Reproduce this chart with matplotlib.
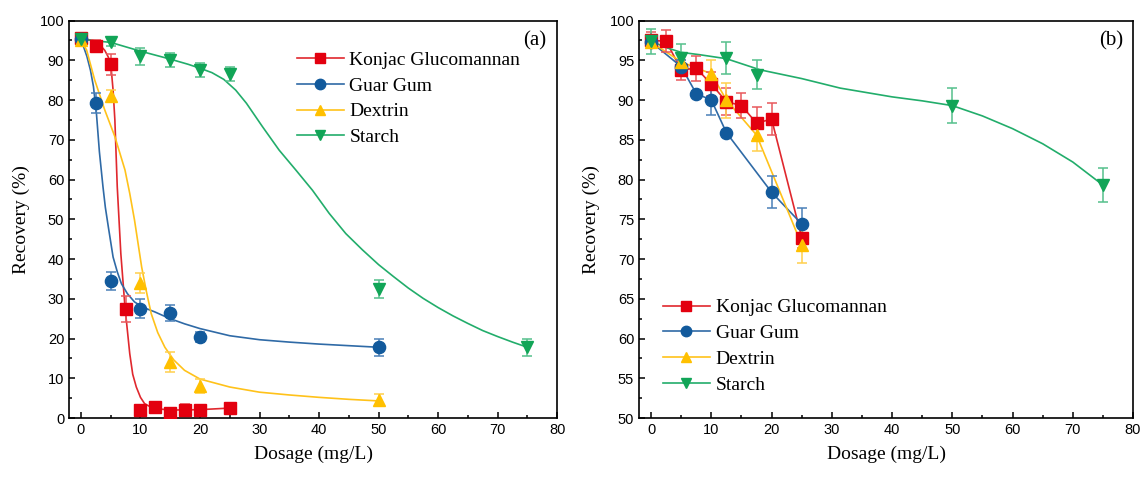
#!/usr/bin/env python3
"""
Recovery vs dosage for four depressants, two panels.
"""

import matplotlib
matplotlib.use("Agg")
import matplotlib.pyplot as plt
from matplotlib.ticker import MultipleLocator


NAMES = ["Konjac Glucomannan", "Guar Gum", "Dextrin", "Starch"]
COLORS = ["#e3000f", "#125a9c", "#ffc000", "#11a557"]
LINE_COLORS = ["#e0282e", "#2f6aa6", "#ffc21a", "#22ad6b"]
ERR_COLORS = ["#e8585c", "#4a80b8", "#ffd04d", "#55c08c"]
MARKERS = ["s", "o", "^", "v"]

# ---- panel (a): measured points
a_kgm_x = [0, 2.5, 5, 7.5, 10, 12.5, 15, 17.5, 20, 25]
a_kgm_y = [95.5, 93.5, 89.0, 27.5, 2.0, 2.7, 1.2, 2.0, 2.0, 2.5]
a_kgm_e = [1.2, 1.5, 2.7, 3.3, 1.0, 0.6, 0.8, 1.5, 1.0, 1.0]

a_guar_x = [0, 2.5, 5, 10, 15, 20, 50]
a_guar_y = [95.3, 79.2, 34.5, 27.5, 26.5, 20.3, 17.8]
a_guar_e = [1.3, 2.5, 2.2, 2.4, 2.0, 1.3, 2.2]

a_dex_x = [0, 5, 10, 15, 20, 50]
a_dex_y = [95.0, 81.0, 34.0, 14.0, 8.0, 4.5]
a_dex_e = [1.0, 1.5, 2.5, 2.5, 1.8, 1.5]

a_sta_x = [0, 5, 10, 15, 20, 25, 50, 75]
a_sta_y = [95.3, 94.7, 91.0, 90.0, 87.5, 86.5, 32.5, 17.8]
a_sta_e = [1.0, 1.2, 2.2, 1.8, 1.8, 1.8, 2.2, 2.2]

# ---- panel (a): fitted curves
a_kgm_fx = [0, 2, 3, 4, 4.6, 5.1, 5.4, 5.7, 6.1, 6.7, 7.4, 8.2, 8.7, 9.3, 10.0, 10.7, 11.8, 13, 15, 20, 25]
a_kgm_fy = [95.5, 95.0, 94.2, 92.5, 90.8, 87.6, 82.5, 75.0, 58.2, 41.4, 27.9, 16.2, 11.0, 7.8, 5.2,
            3.6, 2.7, 2.3, 2.0, 2.1, 2.5]

a_guar_fx = [0, 1, 1.6, 2.1, 2.6, 3.1, 3.7, 4.1, 4.6, 5.4, 6.1, 6.8, 7.8, 9.0, 10.5, 12.4, 14.8, 17.4,
             20, 25, 30, 35, 40, 45, 50]
a_guar_fy = [95.3, 91.0, 87.5, 83.4, 76.7, 67.0, 58.2, 53.0, 48.1, 40.5, 36.8, 33.8, 31.3, 29.2, 27.8,
             26.7, 25.1, 23.7, 22.5, 20.7, 19.7, 19.1, 18.6, 18.2, 17.8]

a_dex_fx = [0, 0.95, 2.3, 4.0, 5.7, 7.4, 8.2, 9.0, 10.2, 11.0, 11.8, 12.9, 14.1, 15.6, 17.4, 20, 25,
            30, 35, 40, 45, 50]
a_dex_fy = [95.0, 92.6, 85.1, 77.5, 70.8, 62.4, 56.5, 49.8, 38.0, 31.8, 26.3, 21.5, 17.8, 14.6,
            12.0, 9.8, 7.8, 6.5, 5.8, 5.2, 4.7, 4.3]

a_sta_fx = [0, 5, 10, 15, 18, 20, 22, 24, 26, 27.8, 30.5, 33.3, 36.1, 38.9, 41.7, 44.5, 47.3, 50,
            52.5, 55, 57.5, 60, 62.5, 65, 67.5, 70, 72.5, 75]
a_sta_fy = [95.3, 94.5, 92.3, 90.3, 89.0, 88.0, 86.9, 85.2, 82.5, 79.2, 73.3, 67.4, 62.4, 57.3,
            51.5, 46.4, 42.3, 38.6, 35.6, 32.7, 30.1, 27.8, 25.7, 23.8, 22.0, 20.5, 19.1, 17.8]

# ---- panel (b): measured points
b_kgm_x = [0, 2.5, 5, 7.5, 10, 12.5, 15, 17.5, 20, 25]
b_kgm_y = [97.5, 97.4, 93.8, 94.0, 92.0, 89.8, 89.3, 87.1, 87.6, 72.7]
b_kgm_e = [1.0, 1.4, 1.3, 1.6, 1.5, 1.7, 1.6, 2.0, 2.0, 1.3]

b_guar_x = [0, 5, 7.5, 10, 12.5, 20, 25]
b_guar_y = [97.3, 94.2, 90.8, 90.0, 85.9, 78.4, 74.4]
b_guar_e = [0.7, 0.9, 0.3, 1.9, 0.3, 2.0, 2.0]

b_dex_x = [0, 5, 10, 12.5, 17.5, 25]
b_dex_y = [97.3, 94.8, 93.3, 90.0, 85.6, 71.8]
b_dex_e = [0.5, 1.0, 1.8, 2.2, 2.0, 2.3]

b_sta_x = [0, 5, 12.5, 17.5, 50, 75]
b_sta_y = [97.4, 95.3, 95.3, 93.2, 89.3, 79.3]
b_sta_e = [1.6, 1.8, 2.0, 1.8, 2.2, 2.1]

# ---- panel (b): starch fitted curve
b_sta_fx = [0, 2.5, 5, 8.1, 12.5, 18.1, 25, 31.4, 40, 45, 50, 55, 60, 65, 70, 75]
b_sta_fy = [97.4, 96.6, 96.0, 95.7, 95.2, 93.8, 92.7, 91.5, 90.4, 89.9, 89.3, 88.0, 86.4, 84.5,
            82.2, 79.3]

SERIF = ["Liberation Serif", "DejaVu Serif"]
SANS = ["Liberation Sans", "DejaVu Sans"]


def style_axes(ax, ylim, ymajor, yminor):
    ax.set_xlim(-2, 80)
    ax.set_ylim(*ylim)
    ax.xaxis.set_major_locator(MultipleLocator(10))
    ax.xaxis.set_minor_locator(MultipleLocator(5))
    ax.yaxis.set_major_locator(MultipleLocator(ymajor))
    ax.yaxis.set_minor_locator(MultipleLocator(yminor))
    ax.tick_params(which="both", direction="in", top=False, right=False, width=1.1)
    ax.tick_params(which="major", length=4.5, labelsize=10.5)
    ax.tick_params(which="minor", length=2.5)
    for lbl in ax.get_xticklabels() + ax.get_yticklabels():
        lbl.set_family(SANS)
    for sp in ax.spines.values():
        sp.set_linewidth(1.2)
    ax.set_xlabel("Dosage (mg/L)", family=SERIF, fontsize=14, labelpad=6)
    ax.set_ylabel("Recovery (%)", family=SERIF, fontsize=14, labelpad=7)


def draw_points(ax, i, x, y, e):
    ax.errorbar(x, y, yerr=e, fmt="none", ecolor=ERR_COLORS[i], elinewidth=1.1,
                capsize=3.5, capthick=1.1, zorder=3)
    ax.plot(x, y, ls="none", marker=MARKERS[i], color=COLORS[i], markersize=8.8, zorder=4)


def add_legend(ax, anchor):
    hs = []
    for i in range(4):
        h, = ax.plot([], [], color=LINE_COLORS[i], lw=1.2, marker=MARKERS[i], markersize=7.5,
                     markerfacecolor=COLORS[i], markeredgecolor=COLORS[i])
        hs.append(h)
    ax.legend(hs, NAMES, loc="upper left", bbox_to_anchor=anchor, frameon=False,
              prop={"family": SERIF, "size": 14}, handlelength=2.4, handletextpad=0.3,
              labelspacing=0.42, borderpad=0, borderaxespad=0)


def main():
    fig = plt.figure(figsize=(11.43, 4.78), dpi=100)
    ax1 = fig.add_axes([0.0604, 0.1255, 0.4270, 0.8315])
    ax2 = fig.add_axes([0.5591, 0.1255, 0.4322, 0.8315])

    # panel (a)
    fits_a = [(a_kgm_fx, a_kgm_fy), (a_guar_fx, a_guar_fy), (a_dex_fx, a_dex_fy), (a_sta_fx, a_sta_fy)]
    pts_a = [(a_kgm_x, a_kgm_y, a_kgm_e), (a_guar_x, a_guar_y, a_guar_e),
             (a_dex_x, a_dex_y, a_dex_e), (a_sta_x, a_sta_y, a_sta_e)]
    for i in range(4):
        ax1.plot(*fits_a[i], color=LINE_COLORS[i], lw=1.2, zorder=2)
        draw_points(ax1, i, *pts_a[i])
    style_axes(ax1, (0, 100), 10, 5)
    add_legend(ax1, (0.467, 0.923))
    ax1.text(0.955, 0.95, "(a)", transform=ax1.transAxes, ha="center", va="center",
             family=SERIF, fontsize=15)

    # panel (b)
    pts_b = [(b_kgm_x, b_kgm_y, b_kgm_e), (b_guar_x, b_guar_y, b_guar_e),
             (b_dex_x, b_dex_y, b_dex_e), (b_sta_x, b_sta_y, b_sta_e)]
    for i in range(3):
        ax2.plot(pts_b[i][0], pts_b[i][1], color=LINE_COLORS[i], lw=1.2, zorder=2)
    ax2.plot(b_sta_fx, b_sta_fy, color=LINE_COLORS[3], lw=1.2, zorder=2)
    for i in range(4):
        draw_points(ax2, i, *pts_b[i])
    style_axes(ax2, (50, 100), 5, 2.5)
    add_legend(ax2, (0.0486, 0.300))
    ax2.text(0.955, 0.95, "(b)", transform=ax2.transAxes, ha="center", va="center",
             family=SERIF, fontsize=15)

    fig.savefig("out.png", dpi=100)
    plt.close(fig)


if __name__ == "__main__":
    main()
